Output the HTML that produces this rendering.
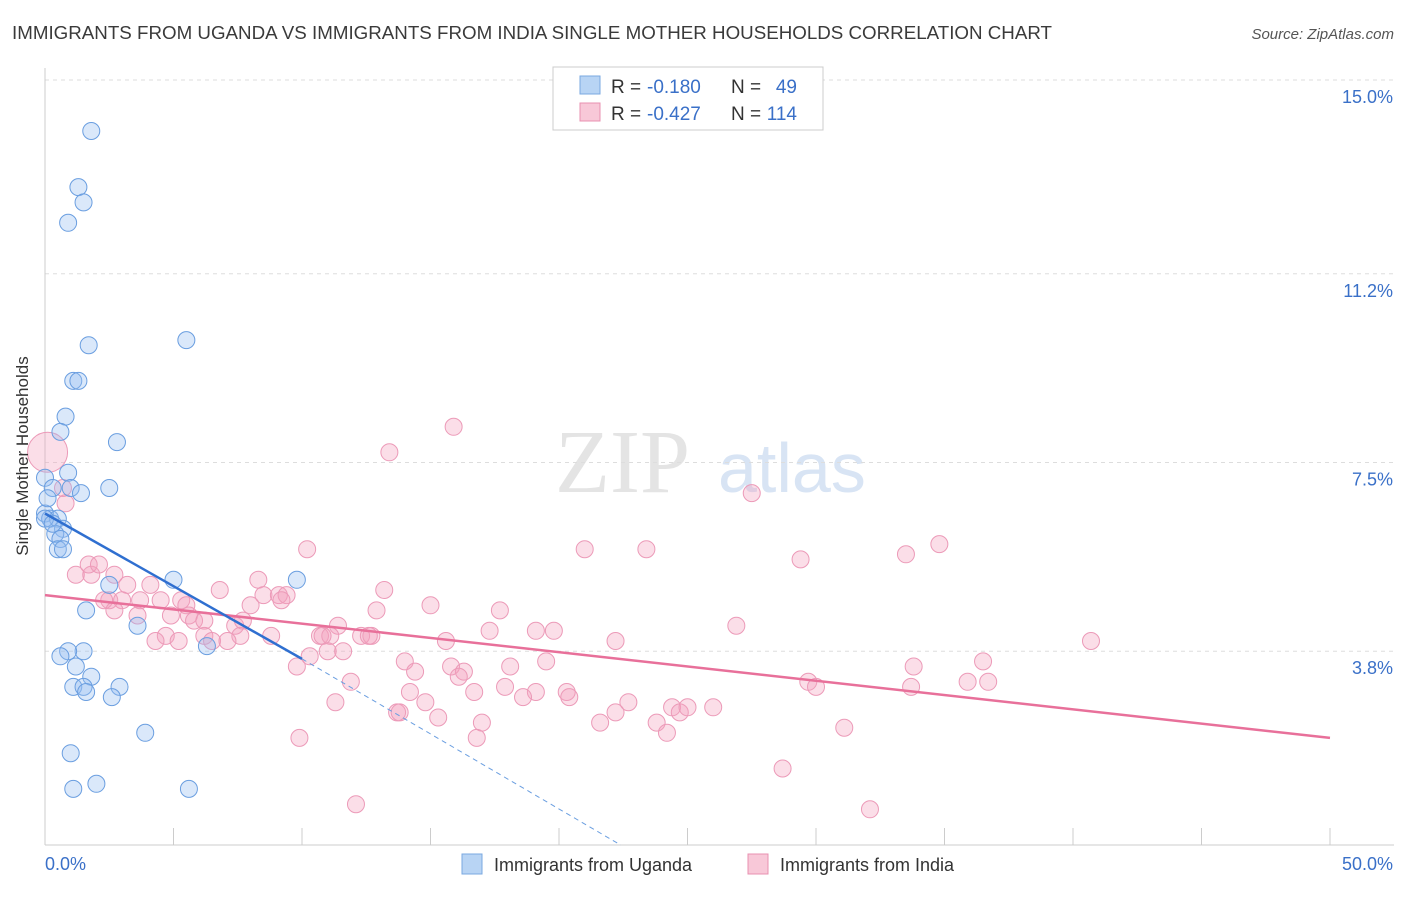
<!DOCTYPE html>
<html><head><meta charset="utf-8"><style>
body{margin:0;background:#fff;font-family:"Liberation Sans",sans-serif;}
</style></head><body>
<svg id="chart" width="1406" height="892" xmlns="http://www.w3.org/2000/svg" font-family="Liberation Sans, sans-serif">
<text x="12" y="39" font-size="18" fill="#3a3a3a" textLength="1040" lengthAdjust="spacingAndGlyphs">IMMIGRANTS FROM UGANDA VS IMMIGRANTS FROM INDIA SINGLE MOTHER HOUSEHOLDS CORRELATION CHART</text>
<text x="1394" y="39" font-size="15" fill="#555" text-anchor="end" font-style="italic">Source: ZipAtlas.com</text>
<g><text x="555" y="492" font-size="90" fill="#e4e4e4" font-family="Liberation Serif, serif">ZIP</text><text x="718" y="492" font-size="70" fill="#d8e4f4">atlas</text></g>
<g id="grid"></g>
<g id="axes"></g>
<g id="marks"></g>
<text transform="translate(34,456) rotate(-90)" font-size="17" fill="#333" text-anchor="middle" x="0" y="-6">Single Mother Households</text>
<g>
<rect x="553" y="67" width="270" height="63" fill="#fff" stroke="#ccc"/>
<rect x="580" y="76" width="20" height="18" fill="#b8d4f4" stroke="#7aa8e0"/>
<rect x="580" y="103" width="20" height="18" fill="#f8c8d8" stroke="#e890b0"/>
<text x="611" y="93" font-size="19" fill="#333">R =</text>
<text x="647" y="93" font-size="19" fill="#3a70c8">-0.180</text>
<text x="731" y="93" font-size="19" fill="#333">N =</text>
<text x="797" y="93" font-size="19" fill="#3a70c8" text-anchor="end">49</text>
<text x="611" y="120" font-size="19" fill="#333">R =</text>
<text x="647" y="120" font-size="19" fill="#3a70c8">-0.427</text>
<text x="731" y="120" font-size="19" fill="#333">N =</text>
<text x="797" y="120" font-size="19" fill="#3a70c8" text-anchor="end">114</text>
</g>
<g>
<rect x="462" y="854" width="20" height="20" fill="#b8d4f4" stroke="#7aa8e0"/>
<text x="494" y="871" font-size="18" fill="#333">Immigrants from Uganda</text>
<rect x="748" y="854" width="20" height="20" fill="#f8c8d8" stroke="#e890b0"/>
<text x="780" y="871" font-size="18" fill="#333">Immigrants from India</text>
</g>
</svg>
<script>
const yTicks=[3.8,7.5,11.2,15.0];
const yTickLabels=["3.8%","7.5%","11.2%","15.0%"];
const xTickVals=[0,5,10,15,20,25,30,35,40,45,50];
const ugX=[1.8,1.3,1.5,0.9,1.7,5.5,1.1,1.3,0.8,0.6,2.8,0.9,0,0.3,1.0,1.4,2.5,0,0.2,0.5,0.7,0.4,0.6,0.5,0.7,2.5,5.0,9.8,1.6,3.6,6.3,1.5,0.9,0.6,1.2,1.8,2.9,1.1,1.5,1.6,2.6,3.9,1.0,2.0,1.1,5.6,0,0.1,0.3];
const ugY=[14.0,12.9,12.6,12.2,9.8,9.9,9.1,9.1,8.4,8.1,7.9,7.3,7.2,7.0,7.0,6.9,7.0,6.5,6.4,6.4,6.2,6.1,6.0,5.8,5.8,5.1,5.2,5.2,4.6,4.3,3.9,3.8,3.8,3.7,3.5,3.3,3.1,3.1,3.1,3.0,2.9,2.2,1.8,1.2,1.1,1.1,6.4,6.8,6.3];
const inX=[15.9,13.4,27.5,0.1,0.7,0.8,10.2,21.0,23.4,29.4,33.5,34.8,1.2,1.8,1.7,2.1,2.7,3.2,4.1,6.8,8.3,8.5,9.1,9.4,13.2,2.5,2.3,3.0,3.7,4.5,5.3,5.5,4.9,5.6,5.8,3.6,2.7,8.0,9.2,12.9,15.0,17.7,6.2,7.4,7.7,11.4,12.3,12.7,7.6,6.2,4.7,4.3,5.2,6.5,7.1,8.8,10.7,11.1,10.8,12.6,15.6,17.3,19.1,19.8,22.2,26.9,40.7,11.0,11.6,10.3,9.8,14.0,14.4,15.8,16.3,16.1,18.1,11.9,16.7,17.9,19.1,20.3,20.4,22.7,14.2,14.8,13.7,13.8,15.3,17.0,22.2,24.4,24.7,25.0,23.8,24.2,29.7,30.0,33.8,36.5,35.9,36.7,33.7,31.1,9.9,16.8,28.7,12.1,32.1,19.5,11.3,18.6,26.0,21.6];
const inY=[8.2,7.7,6.9,7.7,7.0,6.7,5.8,5.8,5.8,5.6,5.7,5.9,5.3,5.3,5.5,5.5,5.3,5.1,5.1,5.0,5.2,4.9,4.9,4.9,5.0,4.8,4.8,4.8,4.8,4.8,4.8,4.7,4.5,4.5,4.4,4.5,4.6,4.7,4.8,4.6,4.7,4.6,4.4,4.3,4.4,4.3,4.1,4.1,4.1,4.1,4.1,4.0,4.0,4.0,4.0,4.1,4.1,4.1,4.1,4.1,4.0,4.2,4.2,4.2,4.0,4.3,4.0,3.8,3.8,3.7,3.5,3.6,3.4,3.5,3.4,3.3,3.5,3.2,3.0,3.1,3.0,3.0,2.9,2.8,3.0,2.8,2.6,2.6,2.5,2.4,2.6,2.7,2.6,2.7,2.4,2.2,3.2,3.1,3.5,3.6,3.2,3.2,3.1,2.3,2.1,2.1,1.5,0.8,0.7,3.6,2.8,2.9,2.7,2.4];
const ns="http://www.w3.org/2000/svg";
const X=v=>45+v*25.7, Y=v=>845-v*51;
function mk(t,a,p){const e=document.createElementNS(ns,t);for(const k in a)e.setAttribute(k,a[k]);p.appendChild(e);return e;}
const grid=document.getElementById('grid'),axes=document.getElementById('axes'),marks=document.getElementById('marks');
yTicks.forEach((v,i)=>{
 const l=mk('line',{x1:45,x2:1394,y1:Y(v),y2:Y(v),stroke:'#ddd','stroke-dasharray':'4,4'},grid);
 
 
 const t=mk('text',{x:1393,y:Y(v)+23,'font-size':18,fill:'#3a70c8','text-anchor':'end'},axes);
 t.textContent=yTickLabels[i];
 
 
});
mk('line',{x1:45,x2:45,y1:68,y2:845,stroke:'#ccc'},axes);
mk('line',{x1:45,x2:1394,y1:845,y2:845,stroke:'#ccc'},axes);
xTickVals.forEach(v=>{const l=mk('line',{x1:X(v),x2:X(v),y1:828,y2:845,stroke:'#ccc'},axes);
 
 });
let t=mk('text',{x:45,y:870,'font-size':18,fill:'#3a70c8'},axes);t.textContent='0.0%';


t=mk('text',{x:1393,y:870,'font-size':18,fill:'#3a70c8','text-anchor':'end'},axes);t.textContent='50.0%';


inX.forEach((x,i)=>{const c=mk('circle',{cx:X(x),cy:Y(inY[i]),r:(i==3?20:8.5),fill:'rgba(244,160,190,0.35)',stroke:'#ec9ab8','stroke-width':1},marks);
 
 });
ugX.forEach((x,i)=>{const c=mk('circle',{cx:X(x),cy:Y(ugY[i]),r:8.5,fill:'rgba(150,190,240,0.35)',stroke:'#6a9ee0','stroke-width':1},marks);
 
 });
let r=mk('line',{x1:X(0),y1:Y(4.9),x2:X(50),y2:Y(2.1),stroke:'#e8709a','stroke-width':2.5},marks);


r=mk('line',{x1:X(0),y1:Y(6.5),x2:X(10),y2:Y(3.65),stroke:'#2f6fd0','stroke-width':2.5},marks);


r=mk('line',{x1:X(10),y1:Y(3.65),x2:X(22.4),y2:Y(0),stroke:'#6a9ee0','stroke-width':1,'stroke-dasharray':'5,4'},marks);


</script>
</body></html>
